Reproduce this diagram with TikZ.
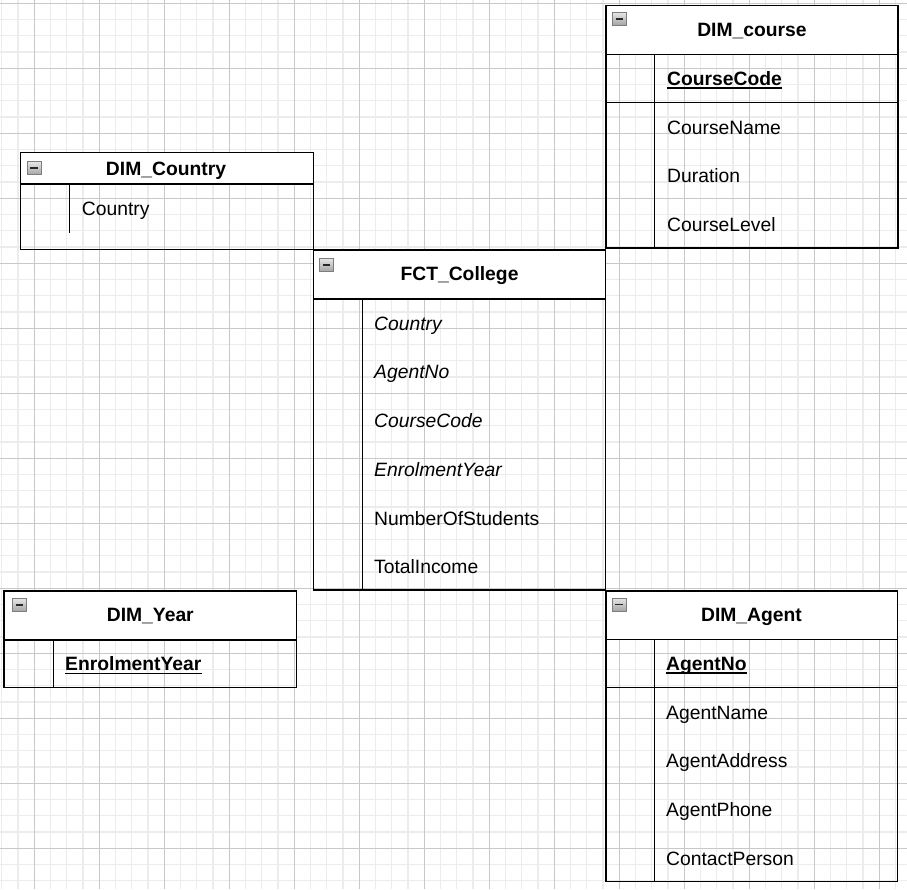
\documentclass[tikz,border=0pt]{standalone}
\usepackage{fontspec}
\setmainfont{Liberation Sans}
\definecolor{gridminor}{RGB}{236,236,236}
\definecolor{gridmajor}{RGB}{200,200,200}
\definecolor{icontop}{RGB}{230,230,230}
\definecolor{iconbot}{RGB}{165,165,165}
\definecolor{iconedge}{RGB}{125,125,125}
\definecolor{iconminus}{RGB}{40,40,40}
\begin{document}
\begin{tikzpicture}[x=1pt,y=-1pt,
  minorgrid/.style={line width=1.2pt, color=gridminor},
  majorgrid/.style={line width=0.9pt, color=gridmajor},
  boxline/.style={line width=1.3pt, black},
  hdrfill/.style={fill=white},
  title/.style={inner sep=0pt, anchor=base, font=\fontsize{19.3}{22}\selectfont\bfseries},
  attr/.style={inner sep=0pt, anchor=base west, font=\fontsize{19.3}{22}\selectfont},
  fkattr/.style={attr, font=\fontsize{19.3}{22}\selectfont\itshape},
  pkattr/.style={attr, font=\fontsize{19.3}{22}\selectfont\bfseries},
  uline/.style={line width=1.4pt, black},
  iconbox/.style={top color=icontop, bottom color=iconbot, draw=iconedge, line width=0.8pt},
  iconbar/.style={line width=1.6pt, color=iconminus}
]
\useasboundingbox (0,0) rectangle (907,889);
\fill[white] (0,0) rectangle (907,889);
% grid
\foreach \i in {0,...,55} \draw[minorgrid] (1.8+16.25*\i,0) -- (1.8+16.25*\i,889);
\foreach \i in {0,...,54} \draw[minorgrid] (0,3.3+16.25*\i) -- (907,3.3+16.25*\i);
\foreach \i in {0,...,13} \draw[majorgrid] (34.3+65*\i,0) -- (34.3+65*\i,889);
\foreach \i in {0,...,13} \draw[majorgrid] (0,3.3+65*\i) -- (907,3.3+65*\i);

% ---------- DIM_course ----------
\fill[hdrfill] (606,5.7) rectangle (898,54.3);
\draw[boxline] (606,5.7) rectangle (898,248);
\draw[boxline] (606,54.3) -- (898,54.3);
\draw[boxline] (606,102.8) -- (898,102.8);
\draw[boxline] (654.3,54.3) -- (654.3,248);
\shade[iconbox] (612.3,12.5) rectangle (626.3,25);
\draw[iconbar] (615.5,18.8) -- (623.1,18.8);
\node[title] (tcourse) at (752,36.7) {DIM\_course};
\node[pkattr] (ccode) at (667,85.1) {CourseCode};
\draw[uline] ([yshift=-2.8pt]ccode.base west) -- ([yshift=-2.8pt]ccode.base east);
\node[attr] (cname) at (667,134.1) {CourseName};
\node[attr] (cdur) at (667,182.9) {Duration};
\node[attr] (clevel) at (667,231.6) {CourseLevel};

% ---------- DIM_Country ----------
\fill[hdrfill] (20.7,152.3) rectangle (313.3,184);
\draw[boxline] (20.7,152.3) rectangle (313.3,249.3);
\draw[boxline] (20.7,184) -- (313.3,184);
\draw[boxline] (69.3,184) -- (69.3,233.3);
\shade[iconbox] (27,161.5) rectangle (41,174.5);
\draw[iconbar] (30.2,168) -- (37.8,168);
\node[title] (tcountry) at (166,175) {DIM\_Country};
\node[attr] (country) at (81.7,215) {Country};

% ---------- FCT_College ----------
\fill[hdrfill] (313.3,250) rectangle (605.7,299);
\draw[boxline] (313.3,250) rectangle (605.7,590);
\draw[boxline] (313.3,299) -- (605.7,299);
\draw[boxline] (362.3,299) -- (362.3,590);
\shade[iconbox] (319.3,258.3) rectangle (333.3,271.3);
\draw[iconbar] (322.5,264.8) -- (330.1,264.8);
\node[title] (tfct) at (459.5,280) {FCT\_College};
\node[fkattr] (fcountry) at (374,330.1) {Country};
\node[fkattr] (fagent) at (374,378.8) {AgentNo};
\node[fkattr] (fcourse) at (374,427.6) {CourseCode};
\node[fkattr] (fyear) at (374,476.3) {EnrolmentYear};
\node[attr] (fnum) at (374,525.1) {NumberOfStudents};
\node[attr] (fincome) at (374,573.8) {TotalIncome};

% ---------- DIM_Year ----------
\fill[hdrfill] (4,591) rectangle (296.7,640);
\draw[boxline] (4,591) rectangle (296.7,687.7);
\draw[boxline] (4,640) -- (296.7,640);
\draw[boxline] (53.3,640) -- (53.3,687.7);
\shade[iconbox] (12.3,598.3) rectangle (26.3,611.3);
\draw[iconbar] (15.5,604.8) -- (23.1,604.8);
\node[title] (tyear) at (150.3,621.7) {DIM\_Year};
\node[pkattr] (yyear) at (65,670.7) {EnrolmentYear};
\draw[uline] ([yshift=-2.8pt]yyear.base west) -- ([yshift=-2.8pt]yyear.base east);

% ---------- DIM_Agent ----------
\fill[hdrfill] (606,591) rectangle (897.7,639.3);
\draw[boxline] (606,591) rectangle (897.7,881.7);
\draw[boxline] (606,639.3) -- (897.7,639.3);
\draw[boxline] (606,687.7) -- (897.7,687.7);
\draw[boxline] (654.3,639.3) -- (654.3,881.7);
\shade[iconbox] (612,598) rectangle (626,611);
\draw[iconbar] (615.2,604.5) -- (622.8,604.5);
\node[title] (tagent) at (751.5,621.7) {DIM\_Agent};
\node[pkattr] (ano) at (666,670.2) {AgentNo};
\draw[uline] ([yshift=-2.8pt]ano.base west) -- ([yshift=-2.8pt]ano.base east);
\node[attr] (aname) at (666,719) {AgentName};
\node[attr] (aaddr) at (666,767.7) {AgentAddress};
\node[attr] (aphone) at (666,816.5) {AgentPhone};
\node[attr] (acontact) at (666,865.2) {ContactPerson};
\end{tikzpicture}
\end{document}
